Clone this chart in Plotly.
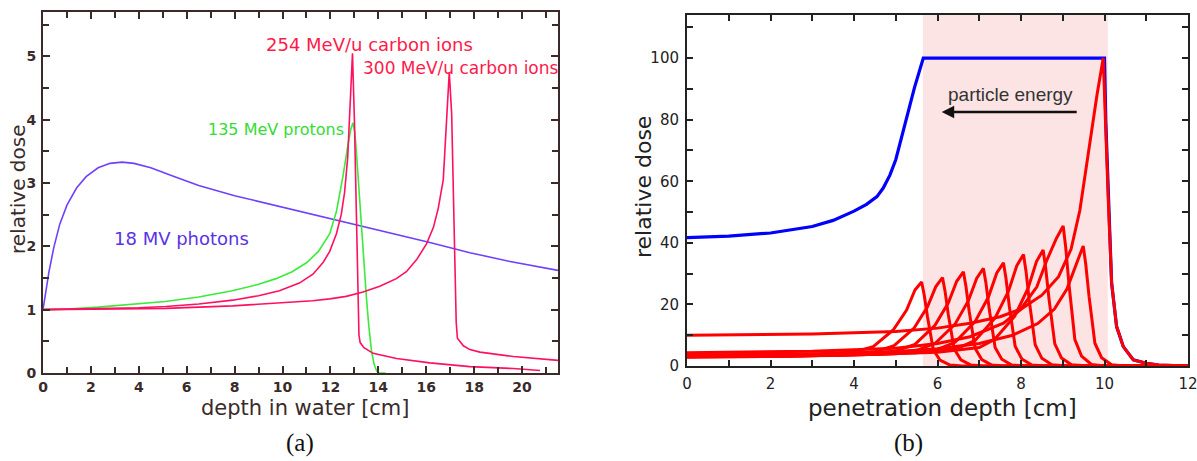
import plotly.graph_objects as go

# ---------------- Panel (a) data ----------------
photon_x = [0, 0.1, 0.25, 0.45, 0.7, 1.0, 1.4, 1.8, 2.3, 2.8, 3.3, 3.8, 4.5, 5.5, 6.5, 8.0, 9.0, 10.5, 11.97, 13.36, 16.15, 17.82, 19.5, 21.5]
photon_y = [1.0, 1.25, 1.6, 1.98, 2.35, 2.65, 2.92, 3.1, 3.24, 3.31, 3.33, 3.31, 3.24, 3.1, 2.96, 2.8, 2.71, 2.57, 2.44, 2.31, 2.06, 1.9, 1.76, 1.62]

proton_x = [0, 1, 2.3, 4, 5.1, 6.5, 7.9, 9.0, 9.73, 10.4, 11.0, 11.5, 11.97, 12.25, 12.52, 12.73, 12.85, 12.94, 13.02, 13.1, 13.2, 13.29, 13.4, 13.5, 13.6, 13.71, 13.82, 13.92, 14.0, 14.3]
proton_y = [1.0, 1.01, 1.04, 1.09, 1.13, 1.2, 1.3, 1.4, 1.49, 1.6, 1.74, 1.92, 2.2, 2.55, 3.1, 3.6, 3.85, 3.95, 3.8, 3.4, 2.85, 2.26, 1.7, 1.2, 0.75, 0.36, 0.14, 0.04, 0.0, 0.0]

c254_x = [0, 2, 4, 5.13, 6.5, 7.92, 9.0, 9.87, 10.7, 11.27, 11.7, 11.97, 12.25, 12.45, 12.59, 12.72, 12.83, 12.92, 13.0, 13.08, 13.14, 13.19, 13.24, 13.4, 13.78, 14.76, 16.15, 17.82, 19.64, 20.75]
c254_y = [1.0, 1.01, 1.03, 1.05, 1.09, 1.15, 1.22, 1.3, 1.42, 1.56, 1.75, 1.92, 2.2, 2.5, 2.85, 3.4, 4.2, 5.05, 4.0, 2.3, 1.2, 0.6, 0.48, 0.4, 0.31, 0.23, 0.16, 0.1, 0.07, 0.04]

c300_x = [0, 5.13, 7.92, 9.87, 11.26, 11.97, 12.66, 13.36, 14.06, 14.75, 15.17, 15.6, 16.01, 16.3, 16.5, 16.71, 16.85, 16.96, 17.06, 17.14, 17.2, 17.25, 17.3, 17.55, 17.82, 18.24, 19.64, 21.5]
c300_y = [1.0, 1.02, 1.06, 1.1, 1.14, 1.17, 1.21, 1.28, 1.37, 1.49, 1.6, 1.79, 2.04, 2.3, 2.6, 3.05, 4.0, 4.75, 4.1, 2.9, 1.7, 0.8, 0.55, 0.43, 0.37, 0.33, 0.26, 0.2]

# ---------------- Panel (b) data ----------------
sobp_x = [0, 1, 2, 3, 3.5, 4.0, 4.3, 4.55, 4.7, 4.86, 5.0, 5.1, 5.26, 5.45, 5.66, 10.0, 10.03, 10.09, 10.17, 10.29, 10.45, 10.69, 11.0, 11.3, 12.0]
sobp_y = [41.7, 42.2, 43.2, 45.3, 47.3, 50.3, 52.5, 55.0, 57.8, 62.0, 67.0, 72.0, 80.5, 90.5, 100, 100, 80, 54, 27, 12.8, 6.3, 2.0, 0.9, 0.3, 0.0]

peak1_x = [0, 2, 3.1, 4.0, 4.46, 4.94, 5.26, 5.46, 5.62, 5.68, 5.76, 5.9, 6.06, 6.3, 6.6, 12]
peak1_y = [3.0, 3.3, 3.7, 4.6, 6.3, 11.7, 18.2, 24.7, 27.3, 23.2, 16.0, 5.2, 1.9, 0.3, 0, 0]
peak2_x = [0, 2, 3.5, 4.5, 4.96, 5.44, 5.76, 5.96, 6.12, 6.18, 6.26, 6.4, 6.56, 6.8, 7.1, 12]
peak2_y = [2.9, 3.1, 3.6, 4.6, 6.6, 12.3, 19.2, 25.8, 28.7, 24.4, 16.6, 5.5, 2.0, 0.3, 0, 0]
peak3_x = [0, 2.5, 4, 5, 5.46, 5.94, 6.26, 6.46, 6.62, 6.68, 6.76, 6.9, 7.06, 7.3, 7.6, 12]
peak3_y = [2.9, 3.2, 3.7, 4.9, 7.0, 13.2, 20.5, 27.5, 30.6, 26.0, 17.7, 5.8, 2.1, 0.3, 0, 0]
peak4_x = [0, 3, 4.5, 5.5, 5.94, 6.42, 6.74, 6.94, 7.10, 7.16, 7.24, 7.38, 7.54, 7.78, 8.1, 12]
peak4_y = [3.0, 3.3, 3.9, 5.1, 7.3, 13.6, 21.2, 28.5, 31.7, 27.0, 18.4, 6.0, 2.2, 0.3, 0, 0]
peak5_x = [0, 3.5, 5, 6, 6.42, 6.9, 7.22, 7.42, 7.58, 7.64, 7.72, 7.86, 8.02, 8.26, 8.6, 12]
peak5_y = [3.1, 3.4, 4.0, 5.4, 7.7, 14.4, 22.4, 30.2, 33.5, 28.5, 19.4, 6.4, 2.3, 0.3, 0, 0]
peak6_x = [0, 4, 5.5, 6.5, 6.9, 7.38, 7.7, 7.9, 8.06, 8.12, 8.2, 8.34, 8.5, 8.74, 9.1, 12]
peak6_y = [3.3, 3.6, 4.3, 5.8, 8.3, 15.6, 24.3, 32.6, 36.2, 30.8, 21.0, 6.9, 2.5, 0.4, 0, 0]
peak7_x = [0, 4.5, 6, 7, 7.37, 7.85, 8.17, 8.37, 8.53, 8.59, 8.67, 8.81, 8.97, 9.21, 9.6, 12]
peak7_y = [3.4, 3.8, 4.5, 6.0, 8.7, 16.2, 25.3, 33.9, 37.7, 32.0, 21.9, 7.2, 2.6, 0.4, 0, 0]
peak8_x = [0, 3, 5, 6, 6.78, 7.58, 7.98, 8.38, 8.62, 8.85, 9.01, 9.07, 9.15, 9.29, 9.45, 9.69, 10.0, 12]
peak8_y = [4.3, 4.8, 5.8, 7.3, 9.5, 13.9, 18.2, 25.7, 34.4, 41.5, 45.5, 38.7, 26.4, 8.6, 3.2, 0.5, 0, 0]
peak9_x = [0, 3, 5, 6, 7, 7.8, 8.4, 8.8, 9.1, 9.33, 9.49, 9.55, 9.63, 9.77, 9.93, 10.17, 10.5, 12]
peak9_y = [3.6, 4.0, 4.6, 5.6, 7.3, 10.0, 13.8, 18.5, 25.0, 33.5, 39.0, 33.2, 22.6, 7.4, 2.7, 0.4, 0, 0]
peak10_x = [0, 3, 5, 6, 6.78, 7.5, 8, 8.5, 8.9, 9.2, 9.41, 9.65, 9.82, 9.97, 10.03, 10.09, 10.17, 10.29, 10.45, 10.69, 11.0, 11.3, 12]
peak10_y = [10.0, 10.4, 11.2, 12.3, 13.9, 16.0, 18.5, 23.0, 29.0, 38.0, 50.6, 73.4, 88.0, 100, 80, 54, 27, 12.8, 6.3, 2.0, 0.9, 0.3, 0]

pristine = [(peak1_x, peak1_y), (peak2_x, peak2_y), (peak3_x, peak3_y), (peak4_x, peak4_y),
            (peak5_x, peak5_y), (peak6_x, peak6_y), (peak7_x, peak7_y), (peak8_x, peak8_y),
            (peak9_x, peak9_y), (peak10_x, peak10_y)]

sobp_region = [5.65, 10.08]

W, H = 1197, 461
fig = go.Figure()

A_PHOT = '#7040ff'
A_PROT = '#3cea3c'
A_CARB = '#ff1060'

fig.add_trace(go.Scatter(x=photon_x, y=photon_y, mode='lines', line=dict(color=A_PHOT, width=1.6), xaxis='x', yaxis='y', showlegend=False))
fig.add_trace(go.Scatter(x=proton_x, y=proton_y, mode='lines', line=dict(color=A_PROT, width=1.6), xaxis='x', yaxis='y', showlegend=False))
fig.add_trace(go.Scatter(x=c254_x, y=c254_y, mode='lines', line=dict(color=A_CARB, width=1.6), xaxis='x', yaxis='y', showlegend=False))
fig.add_trace(go.Scatter(x=c300_x, y=c300_y, mode='lines', line=dict(color=A_CARB, width=1.6), xaxis='x', yaxis='y', showlegend=False))

fig.add_trace(go.Scatter(x=sobp_x, y=sobp_y, mode='lines', line=dict(color='#0000ff', width=3.2), xaxis='x2', yaxis='y2', showlegend=False))
for px, py in pristine:
    fig.add_trace(go.Scatter(x=px, y=py, mode='lines', line=dict(color='#ff0000', width=3), xaxis='x2', yaxis='y2', showlegend=False))

left_dom = [43 / W, 558 / W]
right_dom = [687 / W, 1188 / W]
A_AX = '#3a2a2a'

fig.update_layout(
    width=W, height=H, margin=dict(l=0, r=0, t=0, b=0, autoexpand=False),
    paper_bgcolor='white', plot_bgcolor='rgba(0,0,0,0)',
    xaxis=dict(domain=left_dom, range=[0, 21.5], anchor='y', showgrid=False, zeroline=False,
               showline=True, linecolor=A_AX, linewidth=2, mirror='ticks', ticks='inside', ticklen=7, tickwidth=2, tickcolor=A_AX,
               tickmode='linear', tick0=0, dtick=2, ticklabeloverflow='allow',
               minor=dict(dtick=1, ticks='inside', ticklen=6, tickwidth=2, tickcolor=A_AX),
               tickfont=dict(family='DejaVu Sans', size=14, color=A_AX, weight='bold')),
    yaxis=dict(domain=[1 - 373 / H, 1 - 12 / H], range=[0, 5.7], anchor='x', showgrid=False, zeroline=False,
               showline=True, linecolor=A_AX, linewidth=2, mirror='ticks', ticks='inside', ticklen=7, tickwidth=2, tickcolor=A_AX,
               tickmode='linear', tick0=0, dtick=1, ticklabelstandoff=2,
               minor=dict(dtick=0.5, ticks='inside', ticklen=6, tickwidth=2, tickcolor=A_AX),
               tickfont=dict(family='DejaVu Sans', size=14, color=A_AX, weight='bold')),
    xaxis2=dict(domain=right_dom, range=[0, 12], anchor='y2', showgrid=False, zeroline=False,
                showline=True, linecolor='#222', linewidth=2, mirror='ticks', ticks='inside', ticklen=6, tickwidth=2, tickcolor='#222',
                tickmode='linear', tick0=0, dtick=2, ticklabeloverflow='allow', ticklabelstandoff=3,
                minor=dict(dtick=1, ticks='inside', ticklen=6, tickwidth=2, tickcolor='#222'),
                tickfont=dict(family='DejaVu Sans', size=15, color='#222')),
    yaxis2=dict(domain=[1 - 366 / H, 1 - 15 / H], range=[0, 114], anchor='x2', showgrid=False, zeroline=False,
                showline=True, linecolor='#222', linewidth=2, mirror='ticks', ticks='inside', ticklen=6, tickwidth=2, tickcolor='#222',
                tickmode='linear', tick0=0, dtick=20, ticklabelstandoff=3,
                minor=dict(dtick=10, ticks='inside', ticklen=6, tickwidth=2, tickcolor='#222'),
                tickfont=dict(family='DejaVu Sans', size=15, color='#222')),
    shapes=[dict(type='rect', xref='x2', yref='paper', x0=sobp_region[0], x1=sobp_region[1],
                 y0=1 - 366 / H, y1=1 - 15 / H, fillcolor='rgba(245,120,120,0.2)', line=dict(width=0), layer='below')],
)

ann = []
lbl = dict(family='DejaVu Sans', size=18)
def A(**kw):
    kw.setdefault('showarrow', False)
    kw.setdefault('xanchor', 'center')
    kw.setdefault('yanchor', 'middle')
    ann.append(kw)

A(x=13.64, y=5.18, xref='x', yref='y', text='254 MeV/u carbon ions', font=dict(**lbl, color='#ff1a4a'))
A(x=17.45, y=4.82, xref='x', yref='y', text='300 MeV/u carbon ions', font=dict(family='DejaVu Sans', size=17, color='#ff1a4a'))
A(x=9.73, y=3.84, xref='x', yref='y', text='135 MeV protons', font=dict(family='DejaVu Sans', size=16, color='#33dd33'))
A(x=5.8, y=2.12, xref='x', yref='y', text='18 MV photons', font=dict(**lbl, color='#5a32e6'))

A(x=305 / W, y=1 - 408 / H, xref='paper', yref='paper', text='depth in water [cm]',
  font=dict(family='DejaVu Sans', size=21, color=A_AX))
A(x=18 / W, y=1 - 190 / H, xref='paper', yref='paper', text='relative dose', textangle=-90,
  font=dict(family='DejaVu Sans', size=20, color=A_AX))
A(x=942 / W, y=1 - 408 / H, xref='paper', yref='paper', text='penetration depth [cm]',
  font=dict(family='DejaVu Sans', size=23, color='#222'))
A(x=643 / W, y=1 - 187 / H, xref='paper', yref='paper', text='relative dose', textangle=-90,
  font=dict(family='DejaVu Sans', size=22, color='#222'))

A(x=7.76, y=88.3, xref='x2', yref='y2', text='particle energy',
  font=dict(family='Liberation Sans', size=19, color='#333'))
ann.append(dict(x=6.1, y=82.5, ax=9.37, ay=82.5, xref='x2', yref='y2', axref='x2', ayref='y2', text='',
                showarrow=True, arrowhead=2, arrowsize=1, arrowwidth=2.5, arrowcolor='#111'))

A(x=300 / W, y=1 - 443 / H, xref='paper', yref='paper', text='(a)',
  font=dict(family='Liberation Serif', size=25, color='#111'))
A(x=908 / W, y=1 - 443 / H, xref='paper', yref='paper', text='(b)',
  font=dict(family='Liberation Serif', size=25, color='#111'))

fig.update_layout(annotations=ann)
fig.write_html('out.html')
